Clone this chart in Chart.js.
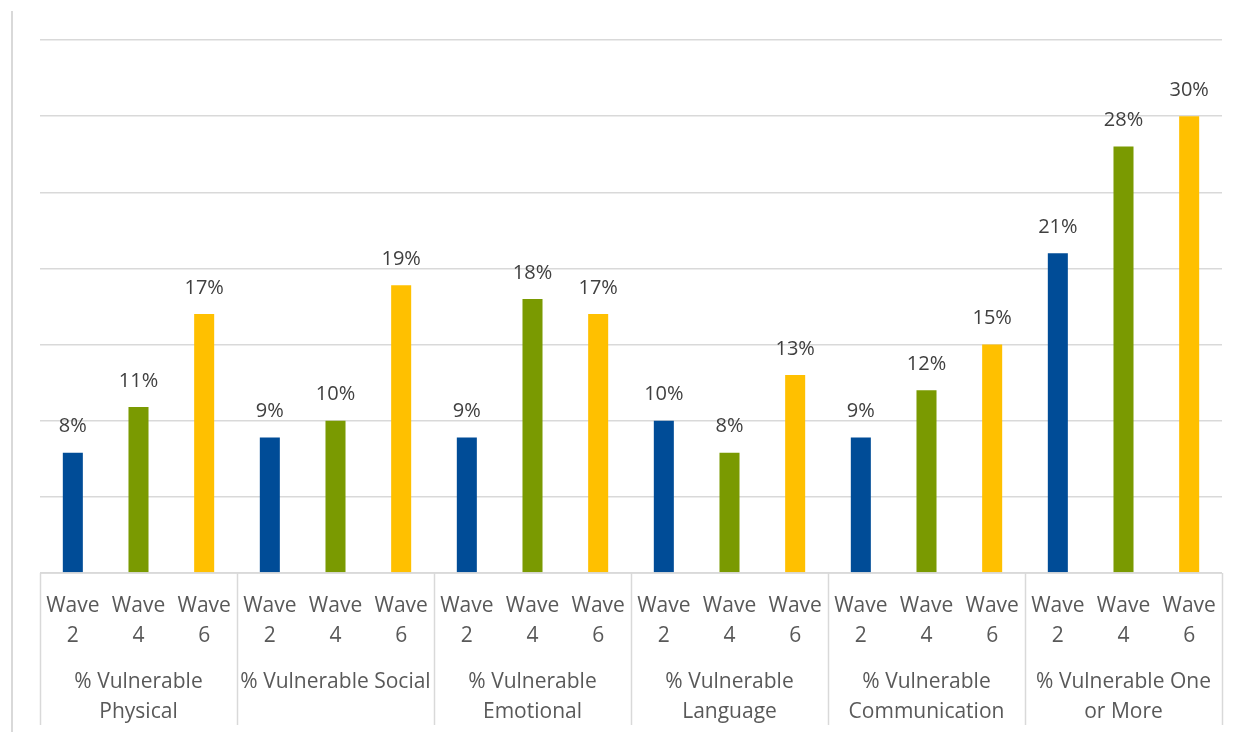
<!DOCTYPE html>
<html>
<head>
<meta charset="utf-8">
<script src="https://cdn.jsdelivr.net/npm/chart.js@4/dist/chart.umd.min.js"></script>
<style>
  html, body { margin: 0; padding: 0; background: #ffffff; }
  #wrap { position: relative; width: 1238px; height: 732px; }
  #frame { position: absolute; left: 11px; top: 11px; width: 2px; height: 721px; background: #d9d9d9; }
  canvas { position: absolute; left: 0; top: 0; }
</style>
</head>
<body>
<div id="wrap">
  <div id="frame"></div>
  <canvas id="c" width="1238" height="732"></canvas>
</div>
<script>
const groups = [
  ["% Vulnerable", "Physical"],
  ["% Vulnerable Social"],
  ["% Vulnerable", "Emotional"],
  ["% Vulnerable", "Language"],
  ["% Vulnerable", "Communication"],
  ["% Vulnerable One", "or More"]
];
const waves = [["Wave", "2"], ["Wave", "4"], ["Wave", "6"]];
const wave2 = [7.9, 8.9, 8.9, 10, 8.9, 21];
const wave4 = [10.9, 10, 18, 7.9, 12, 28];
const wave6 = [17, 18.9, 17, 13, 15, 30];
const waveColors = ["#004C97", "#7A9A01", "#FFC000"];

const series = [wave2, wave4, wave6];
const labels = [];
const values = [];
const colors = [];
groups.forEach((g, gi) => {
  waves.forEach((w, wi) => {
    labels.push(w);
    values.push(series[wi][gi]);
    colors.push(waveColors[wi]);
  });
});

const FONT = "'Open Sans', Lato, sans-serif";

const valueLabels = {
  id: 'valueLabels',
  afterDatasetsDraw(chart) {
    const ctx = chart.ctx;
    const meta = chart.getDatasetMeta(0);
    ctx.save();
    ctx.font = "20px " + FONT;
    ctx.fillStyle = "#404040";
    ctx.textAlign = "center";
    ctx.textBaseline = "middle";
    meta.data.forEach((bar, i) => {
      ctx.fillText(Math.round(values[i]) + "%", bar.x, bar.y - 26);
    });
    ctx.restore();
  }
};

const separators = {
  id: 'separators',
  afterDraw(chart) {
    const ctx = chart.ctx;
    const a = chart.chartArea;
    ctx.save();
    ctx.strokeStyle = "#d9d9d9";
    ctx.lineWidth = 1.5;
    ctx.beginPath();
    ctx.moveTo(a.left, a.bottom);
    ctx.lineTo(a.right, a.bottom);
    const n = labels.length;
    const step = (a.right - a.left) / n;
    for (let i = 0; i <= groups.length; i++) {
      const px = Math.round(a.left + i * 3 * step) + 0.5;
      ctx.moveTo(px, a.bottom);
      ctx.lineTo(px, 725);
    }
    ctx.stroke();
    ctx.restore();
  }
};

new Chart(document.getElementById('c'), {
  type: 'bar',
  data: {
    labels: labels,
    datasets: [{
      data: values,
      backgroundColor: colors,
      borderWidth: 0,
      barPercentage: 0.305,
      categoryPercentage: 1.0
    }]
  },
  options: {
    responsive: false,
    animation: false,
    layout: { padding: { left: 40, right: 16, top: 40, bottom: 5 } },
    plugins: { legend: { display: false }, tooltip: { enabled: false } },
    scales: {
      y: {
        min: 0, max: 35,
        ticks: { stepSize: 5, display: false },
        grid: { color: "#d9d9d9", lineWidth: 1.5, drawTicks: false },
        border: { display: false }
      },
      x: {
        grid: { display: false, drawTicks: false },
        border: { display: false },
        afterFit: (axis) => { axis.height = 78; },
        ticks: {
          maxRotation: 0, autoSkip: false, padding: 18,
          color: "#595959",
          font: { family: FONT, size: 21, lineHeight: 1.43 }
        }
      },
      x2: {
        type: 'category',
        position: 'bottom',
        labels: groups,
        offset: true,
        grid: { display: false, drawTicks: false },
        border: { display: false },
        afterFit: (axis) => { axis.height = 76; },
        ticks: {
          maxRotation: 0, autoSkip: false, padding: 16,
          color: "#595959",
          font: { family: FONT, size: 21, lineHeight: 1.43 }
        }
      }
    }
  },
  plugins: [valueLabels, separators]
});
</script>
</body>
</html>
